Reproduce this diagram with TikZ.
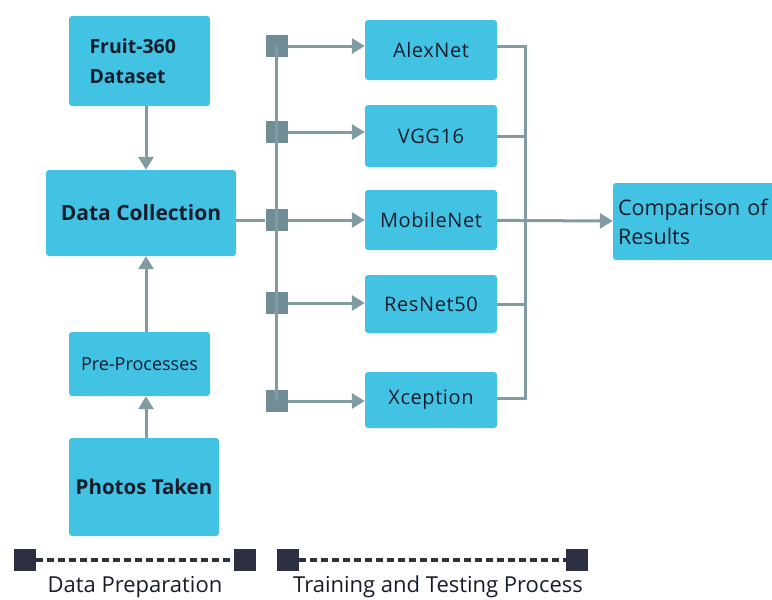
\documentclass[tikz,border=0pt]{standalone}
\usepackage{fontspec}
\setmainfont{Open Sans}
\definecolor{BoxColor}{RGB}{66,195,228}
\definecolor{LineColor}{RGB}{128,155,162}
\definecolor{JointColor}{RGB}{112,140,148}
\definecolor{LegendColor}{RGB}{44,48,64}
\definecolor{TextColor}{RGB}{22,28,44}
\usetikzlibrary{arrows.meta, positioning, calc}

\begin{document}
\begin{tikzpicture}[x=1pt, y=-1pt,
    box/.style={fill=BoxColor, rounded corners=3pt, text=TextColor, inner sep=0pt, align=center},
    netbox/.style={box, minimum width=132pt, font=\fontsize{20}{24}\selectfont\addfontfeatures{LetterSpace=3}},
    joint/.style={fill=JointColor, minimum size=22pt, inner sep=0pt},
    legendsq/.style={fill=LegendColor, minimum size=22pt, inner sep=0pt},
    legendline/.style={draw=LegendColor, line width=3.5pt, dash pattern=on 7pt off 4pt},
    legendtext/.style={text=TextColor, font=\fontsize{22}{26}\selectfont},
    link/.style={draw=LineColor, line width=3pt},
    flow/.style={link, -{Triangle[length=13pt, width=15pt]}}]
  \useasboundingbox (0,0) rectangle (772,600);
  % data preparation column
  \node[box, minimum width=141pt, minimum height=90pt, text width=100pt, align=left, font=\bfseries\fontsize{19.5}{30}\selectfont] (fruit) at (139.5,61) {Fruit-360\\Dataset};
  \node[box, minimum width=190pt, minimum height=86pt, font=\bfseries\fontsize{21}{24}\selectfont] (collect) at (141,213) {Data Collection};
  \node[box, minimum width=141pt, minimum height=64pt, font=\fontsize{18}{20}\selectfont] (pre) at (139.5,364) {Pre-Processes};
  \node[box, minimum width=150pt, minimum height=98pt, font=\bfseries\fontsize{20.5}{24}\selectfont] (photos) at (144,487) {Photos Taken};
  \coordinate (axis) at (146,0);
  \draw[flow] (fruit.south -| axis) -- (collect.north -| axis);
  \draw[flow] (pre.north -| axis) -- (collect.south -| axis);
  \draw[flow] (photos.north -| axis) -- (pre.south -| axis);
  % networks
  \node[netbox, minimum height=60pt] (alex) at (431,50) {AlexNet};
  \node[netbox, minimum height=62pt] (vgg) at (431,136) {VGG16};
  \node[netbox, minimum height=60pt] (mobile) at (431,220) {MobileNet};
  \node[netbox, minimum height=58pt] (resnet) at (431,304) {ResNet50};
  \node[netbox, minimum height=56pt] (xcep) at (431,400) {Xception};
  \node[box, minimum width=166pt, minimum height=77pt, text width=156pt, align=left, font=\fontsize{21.5}{29}\selectfont] (compare) at (696,221.5) {Comparison of\\Results};
  % distribution bus
  \foreach \y [count=\i] in {46,132,220,303,401}
    \node[joint] (j\i) at (276.5,\y) {};
  \draw[link] (j1.center) -- (j5.center);
  \draw[link] (collect.east |- j3) -- (j3);
  \foreach \j/\n in {1/alex,2/vgg,3/mobile,4/resnet,5/xcep}
    \draw[flow] (j\j) -- (j\j -| \n.west);
  % collector
  \coordinate (ctop) at (525,46);
  \coordinate (cbot) at (525,398);
  \draw[link] (alex.east |- ctop) -| (cbot) -- (xcep.east |- cbot);
  \foreach \n in {vgg,resnet}
    \draw[link] (\n.east) -- (\n.east -| ctop);
  \draw[flow] (mobile) -- (compare);
  % legend
  \node[legendsq] (p1) at (24.5,560) {};
  \node[legendsq] (p2) at (244.5,560) {};
  \node[legendsq] (t1) at (288,560) {};
  \node[legendsq] (t2) at (577,560) {};
  \draw[legendline] (p1) -- (p2);
  \draw[legendline] (t1) -- (t2);
  \node[legendtext] (plabel) at (135,587) {Data Preparation};
  \node[legendtext] (tlabel) at (438,587) {Training and Testing Process};
\end{tikzpicture}
\end{document}
